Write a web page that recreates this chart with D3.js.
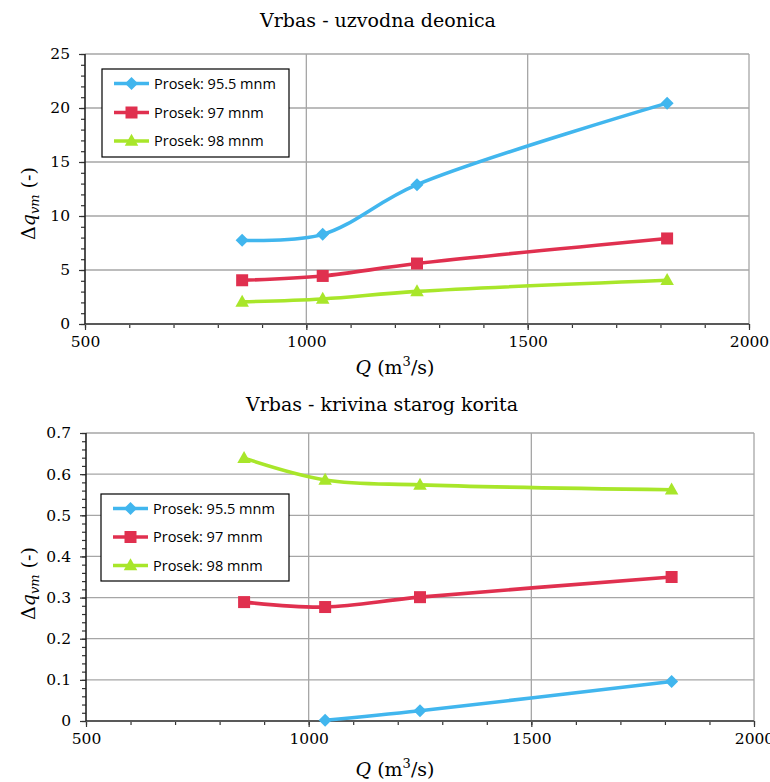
<!DOCTYPE html>
<html>
<head>
<meta charset="utf-8">
<script src="https://cdn.jsdelivr.net/npm/d3@7"></script>
<style>
  body { margin: 0; background: #fff; }
  svg { display: block; }
  text.sf { font-family: "DejaVu Serif", "Liberation Serif", serif; }
</style>
</head>
<body>
<svg id="chart" width="770" height="782"></svg>
<script>
// ---------- data ----------
const Q = [855, 1037, 1250, 1815];
const seriesNames = ["Prosek: 95.5 mnm", "Prosek: 97 mnm", "Prosek: 98 mnm"];
const seriesColors = ["#41B6EE", "#E0304F", "#A8E62A"];
const seriesMarkers = ["diamond", "square", "triangle"];

// top chart: Vrbas - uzvodna deonica
const top955 = [7.75, 8.3, 12.9, 20.45];
const top97  = [4.05, 4.45, 5.6, 7.92];
const top98  = [2.05, 2.32, 3.02, 4.05];

// bottom chart: Vrbas - krivina starog korita
const bot955 = [null, 0.002, 0.025, 0.096];
const bot97  = [0.289, 0.277, 0.301, 0.350];
const bot98  = [0.639, 0.586, 0.574, 0.562];

const xTicks = [500, 1000, 1500, 2000];
const yTicksTop = [0, 5, 10, 15, 20, 25];
const yTicksBot = [0, 0.1, 0.2, 0.3, 0.4, 0.5, 0.6, 0.7];

const SANS = "'Open Sans', 'Noto Sans', sans-serif";

const svg = d3.select("#chart");

function serifText(sel, size) {
  return sel.attr("class", "sf").attr("font-family", "DejaVu Serif")
    .style("font-size", size + "px").style("fill", "#000");
}

function drawPanel(cfg) {
  const g = svg.append("g");
  const x = d3.scaleLinear().domain([500, 2000]).range([cfg.x0, cfg.x1]);
  const y = d3.scaleLinear().domain(cfg.yDomain).range([cfg.y0, cfg.y1]);

  // grid
  g.append("g").selectAll("line").data(cfg.yTicks.filter(v => v !== cfg.yDomain[0]))
    .join("line")
    .attr("x1", cfg.x0).attr("x2", cfg.x1)
    .attr("y1", d => y(d)).attr("y2", d => y(d))
    .attr("stroke", "#A6A6A6").attr("stroke-width", 1.3);
  g.append("g").selectAll("line").data(xTicks.filter(v => v !== 500))
    .join("line")
    .attr("x1", d => x(d)).attr("x2", d => x(d))
    .attr("y1", cfg.y1).attr("y2", cfg.y0)
    .attr("stroke", "#A6A6A6").attr("stroke-width", 1.3);

  // axes
  const xAxisMinor = d3.axisBottom(x).tickValues(d3.range(500, 2001, 100)).tickSize(4).tickFormat("");
  const xAxis = d3.axisBottom(x).tickValues(xTicks).tickSize(6).tickPadding(6)
    .tickFormat(d3.format("d"));
  const gxm = g.append("g").attr("transform", `translate(0,${cfg.y0})`).call(xAxisMinor);
  const gx = g.append("g").attr("transform", `translate(0,${cfg.y0})`).call(xAxis);

  const yAxisMinor = d3.axisLeft(y).tickValues(d3.range(0, cfg.yMinorCount + 1).map(i => i * cfg.yMinorStep))
    .tickSize(4).tickFormat("");
  const yAxis = d3.axisLeft(y).tickValues(cfg.yTicks).tickSize(6).tickPadding(9)
    .tickFormat(cfg.yFormat);
  const gym = g.append("g").attr("transform", `translate(${cfg.x0},0)`).call(yAxisMinor);
  const gy = g.append("g").attr("transform", `translate(${cfg.x0},0)`).call(yAxis);
  [gx, gxm, gy, gym].forEach(a => {
    a.attr("font-family", null).attr("font-size", null);
    a.select(".domain").remove();
    a.selectAll(".tick line").attr("stroke", "#333").attr("stroke-width", 1.2);
  });
  serifText(gx.selectAll("text"), 15.5);
  serifText(gy.selectAll("text"), 15.5);
  g.append("line").attr("x1", cfg.x0).attr("x2", cfg.x1).attr("y1", cfg.y0).attr("y2", cfg.y0)
    .attr("stroke", "#595959").attr("stroke-width", 2);
  g.append("line").attr("x1", cfg.x0).attr("x2", cfg.x0).attr("y1", cfg.y0).attr("y2", cfg.y1)
    .attr("stroke", "#222").attr("stroke-width", 1.6);

  // series
  const line = d3.line()
    .x(d => x(d.q)).y(d => y(d.v)).curve(d3.curveCatmullRom.alpha(0.5));
  cfg.series.forEach((vals, i) => {
    const pts = Q.map((q, k) => ({ q, v: vals[k] })).filter(d => d.v !== null);
    g.append("path").datum(pts).attr("d", line)
      .attr("fill", "none").attr("stroke", seriesColors[i]).attr("stroke-width", 3.6);
    pts.forEach(p => drawMarker(g, seriesMarkers[i], x(p.q), y(p.v), seriesColors[i]));
  });

  // legend
  const L = cfg.legend;
  g.append("rect").attr("x", L.x).attr("y", L.y).attr("width", L.w).attr("height", L.h)
    .attr("fill", "#fff").attr("stroke", "#000").attr("stroke-width", 1.2);
  seriesNames.forEach((name, i) => {
    const yy = L.y + L.rowY[i];
    g.append("line").attr("x1", L.x + 12).attr("x2", L.x + 47).attr("y1", yy).attr("y2", yy)
      .attr("stroke", seriesColors[i]).attr("stroke-width", 3.6);
    drawMarker(g, seriesMarkers[i], L.x + 29.5, yy, seriesColors[i]);
    g.append("text").attr("x", L.x + 52).attr("y", yy + 5)
      .style("font-family", SANS).style("font-size", "14.5px").style("fill", "#000").text(name);
  });

  // title
  serifText(g.append("text"), 19).attr("x", cfg.titleX).attr("y", cfg.titleY)
    .attr("text-anchor", "middle").text(cfg.title);

  // x label
  const xl = serifText(g.append("text"), 19).attr("x", cfg.xlabX).attr("y", cfg.xlabY)
    .attr("text-anchor", "middle");
  xl.append("tspan").style("font-style", "italic").text("Q");
  xl.append("tspan").text(" (m");
  xl.append("tspan").attr("dy", -8).style("font-size", "13px").text("3");
  xl.append("tspan").attr("dy", 8).text("/s)");

  // y label
  const yl = serifText(g.append("text"), 19)
    .attr("transform", `translate(${cfg.ylabX},${cfg.ylabY}) rotate(-90)`)
    .attr("text-anchor", "start");
  yl.append("tspan").text("Δ");
  yl.append("tspan").style("font-style", "italic").text("q");
  yl.append("tspan").style("font-style", "italic").attr("dy", 4).style("font-size", "13px").text("vm");
  yl.append("tspan").attr("dy", -4).text(" (-)");
}

function drawMarker(g, type, cx, cy, color) {
  if (type === "diamond") {
    const r = 6.5;
    g.append("path").attr("d", `M${cx},${cy - r}L${cx + r},${cy}L${cx},${cy + r}L${cx - r},${cy}Z`)
      .attr("fill", color);
  } else if (type === "square") {
    const s = 12;
    g.append("rect").attr("x", cx - s / 2).attr("y", cy - s / 2).attr("width", s).attr("height", s)
      .attr("fill", color);
  } else {
    const w = 13.5, h = 12;
    g.append("path").attr("d", `M${cx},${cy - h * 0.6}L${cx + w / 2},${cy + h * 0.4}L${cx - w / 2},${cy + h * 0.4}Z`)
      .attr("fill", color);
  }
}

drawPanel({
  x0: 85, x1: 749, y0: 324, y1: 54,
  yDomain: [0, 25], yTicks: yTicksTop, yFormat: d3.format("d"),
  yMinorStep: 1, yMinorCount: 25,
  series: [top955, top97, top98],
  legend: { x: 102, y: 69, w: 187, h: 88, rowY: [14.5, 43.5, 72] },
  title: "Vrbas - uzvodna deonica", titleX: 378, titleY: 27,
  xlabX: 395, xlabY: 374,
  ylabX: 35, ylabY: 240
});

drawPanel({
  x0: 86, x1: 754, y0: 721, y1: 433,
  yDomain: [0, 0.7], yTicks: yTicksBot, yFormat: d => d === 0 ? "0" : d3.format(".1f")(d),
  yMinorStep: 0.02, yMinorCount: 35,
  series: [bot955, bot97, bot98],
  legend: { x: 101, y: 494, w: 188, h: 87, rowY: [14.5, 43, 71.5] },
  title: "Vrbas - krivina starog korita", titleX: 382, titleY: 411,
  xlabX: 395, xlabY: 776,
  ylabX: 35, ylabY: 620
});
</script>
</body>
</html>
